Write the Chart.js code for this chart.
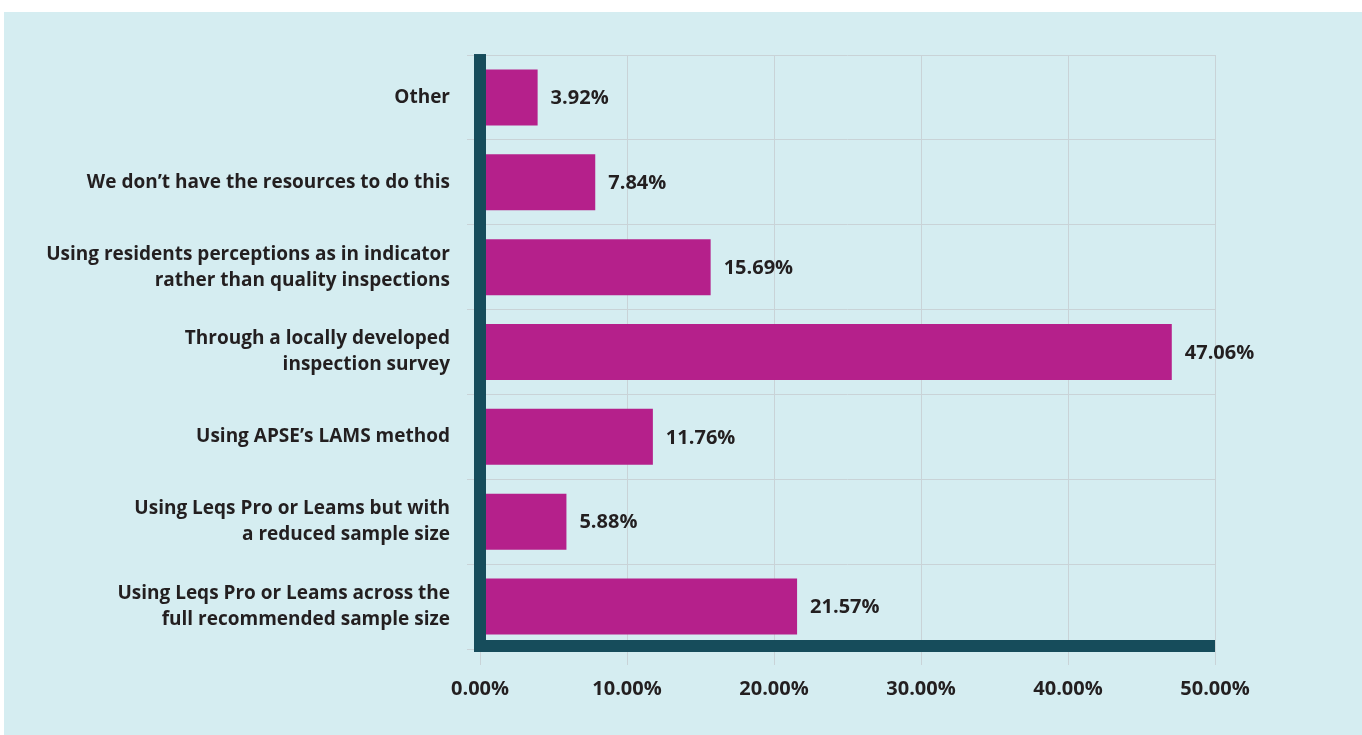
<!DOCTYPE html>
<html>
<head>
<meta charset="utf-8">
<script src="https://cdn.jsdelivr.net/npm/chart.js@4/dist/chart.umd.min.js"></script>
<style>
  body { margin: 0; background: #ffffff; }
  #wrap { position: absolute; left: 4px; top: 12px; width: 1358px; height: 723px; background: #d5edf1; }
</style>
</head>
<body>
<div id="wrap"><canvas id="myChart" width="1358" height="723"></canvas></div>
<script>
// Категории (сверху вниз, как на картинке)
const categories = [
  'Other',
  'We don\u2019t have the resources to do this',
  ['Using residents perceptions as in indicator', 'rather than quality inspections'],
  ['Through a locally developed', 'inspection survey'],
  'Using APSE\u2019s LAMS method',
  ['Using Leqs Pro or Leams but with', 'a reduced sample size'],
  ['Using Leqs Pro or Leams across the', 'full recommended sample size']
];
const shares = [3.92, 7.84, 15.69, 47.06, 11.76, 5.88, 21.57];
const xTicks = [0, 10, 20, 30, 40, 50];

const textColor = '#231f20';
const axisColor = '#164c5b';
const fontFamily = '"Open Sans", Lato, sans-serif';

// Подписи значений справа от столбцов и толстые оси
const valueLabels = {
  id: 'valueLabels',
  afterDatasetsDraw(chart) {
    const ctx = chart.ctx;
    const a = chart.chartArea;
    const meta = chart.getDatasetMeta(0);
    ctx.save();
    ctx.font = 'bold 20px ' + fontFamily;
    ctx.fillStyle = textColor;
    ctx.textAlign = 'left';
    ctx.textBaseline = 'middle';
    meta.data.forEach((bar, i) => {
      ctx.fillText(shares[i].toFixed(2) + '%', bar.x + 13, bar.y + 1);
    });
    // оси
    ctx.fillStyle = axisColor;
    ctx.fillRect(a.left - 6, a.top - 1, 12, a.bottom - a.top + 4);
    ctx.fillRect(a.left - 6, a.bottom - 9, a.right - a.left + 6, 12);
    ctx.restore();
  }
};

const ctx = document.getElementById('myChart').getContext('2d');
const chart = new Chart(ctx, {
  type: 'bar',
  data: {
    labels: categories,
    datasets: [{
      data: shares,
      backgroundColor: '#b5208b',
      borderWidth: 0,
      barPercentage: 0.66,
      categoryPercentage: 1
    }]
  },
  options: {
    indexAxis: 'y',
    responsive: false,
    animation: false,
    layout: { padding: { top: 43, right: 147, left: 0, bottom: 0 } },
    plugins: {
      legend: { display: false },
      tooltip: { enabled: false }
    },
    scales: {
      x: {
        min: 0,
        max: 50,
        afterBuildTicks: s => { s.ticks = xTicks.map(v => ({ value: v })); },
        afterFit: s => { s.height = 86; },
        grid: { color: '#c9d3d7', lineWidth: 1, tickLength: 16 },
        border: { display: false },
        ticks: {
          color: textColor,
          padding: 12,
          font: { family: fontFamily, size: 20, weight: 'bold' },
          callback: v => v.toFixed(2) + '%'
        }
      },
      y: {
        afterFit: s => { s.width = 476; },
        grid: { color: '#c9d3d7', lineWidth: 1, tickLength: 13 },
        border: { display: false },
        ticks: {
          color: textColor,
          padding: 17,
          font: { family: fontFamily, size: 19, weight: 'bold', lineHeight: 1.37 }
        }
      }
    }
  },
  plugins: [valueLabels]
});
</script>
</body>
</html>
